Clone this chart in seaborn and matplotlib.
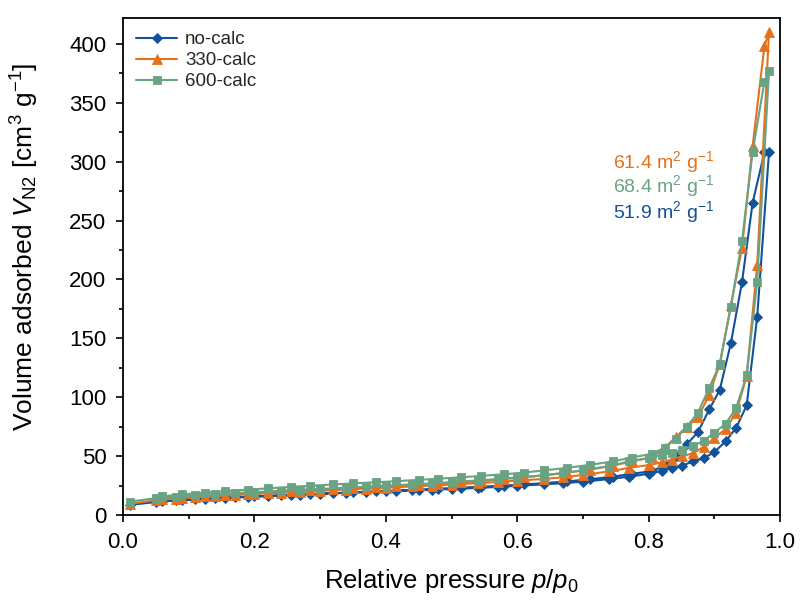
import matplotlib
matplotlib.use("Agg")
import matplotlib.pyplot as plt
import seaborn as sns
import pandas as pd
from matplotlib.ticker import MultipleLocator

# ---- data ----
samples = ["no-calc", "330-calc", "600-calc"]
ads_p = [0.01, 0.05, 0.08, 0.11, 0.14, 0.17, 0.20, 0.24, 0.27, 0.30, 0.34, 0.37,
         0.40, 0.44, 0.47, 0.50, 0.54, 0.57, 0.60, 0.64, 0.67, 0.70, 0.74, 0.77,
         0.80, 0.82, 0.835, 0.85, 0.868, 0.884, 0.90, 0.917, 0.933, 0.949, 0.965, 0.983]
des_p = [0.976, 0.958, 0.942, 0.925, 0.908, 0.892, 0.875, 0.858, 0.841, 0.824,
         0.805, 0.775, 0.745, 0.71, 0.675, 0.64, 0.61, 0.58, 0.545, 0.515, 0.48,
         0.45, 0.415, 0.385, 0.35, 0.32, 0.285, 0.255, 0.22, 0.19, 0.155, 0.125,
         0.09, 0.06]

nocalc_ads = [8.5, 11, 12.3, 13.3, 14.2, 15, 15.8, 16.6, 17.3, 18, 18.8, 19.4,
              20, 20.8, 21.4, 22, 23, 23.8, 24.8, 26, 27, 28.3, 30.5, 32.5,
              35, 37.3, 39.8, 41.8, 45.5, 48.3, 53.5, 62.5, 74, 93, 168, 308]
nocalc_des = [308, 265, 198, 146, 106, 89.6, 70.5, 60, 49.7, 41.8, 37.3, 35,
              32.5, 30.3, 28.5, 27, 25.9, 25, 24, 23.2, 22.3, 21.5, 20.7, 20,
              19.2, 18.5, 17.6, 16.9, 16, 15.3, 14.4, 13.6, 12.6, 11.5]

c330_ads = [9.5, 12.5, 13.9, 15.1, 16.1, 17, 17.9, 19, 19.8, 20.6, 21.6, 22.4,
            23.2, 24.2, 25, 25.8, 27, 28, 29.2, 30.6, 32, 34, 37, 40,
            42.4, 44.6, 47, 49.7, 52.6, 58, 65.4, 73, 86.7, 118, 212, 410]
c330_des = [398, 313, 227, 178, 128, 102, 83, 75, 66, 57, 49, 45.5,
            42, 38.5, 36, 33.8, 32, 30.5, 29, 27.8, 26.6, 25.6, 24.5, 23.6,
            22.6, 21.8, 20.8, 20, 18.9, 18, 16.9, 15.9, 14.6, 13.2]

c600_ads = [11.4, 14.2, 15.5, 16.6, 17.6, 18.5, 19.4, 20.5, 21.3, 22.1, 23.1, 24,
            24.9, 26, 26.9, 27.9, 29.3, 30.5, 31.8, 33.5, 35.5, 38, 41.5, 45.5,
            48.4, 51, 52.6, 55.4, 58.8, 63, 70, 77.4, 91, 118.5, 198, 377]
c600_des = [368, 308, 233, 177, 128, 108, 87, 75, 64.5, 57, 52, 48.8,
            45.5, 42.5, 40, 37.8, 36, 34.6, 33.2, 32, 30.8, 29.8, 28.7, 27.8,
            26.8, 25.9, 24.8, 23.9, 22.6, 21.5, 20.2, 19, 17.5, 15.8]

bet_labels = ["51.9 m$^2$ g$^{-1}$", "61.4 m$^2$ g$^{-1}$", "68.4 m$^2$ g$^{-1}$"]

# ---- style ----
colors = ["#11529a", "#e6711c", "#6aa383"]
markers = ["D", "^", "s"]
msizes = [5, 6.5, 5.5]

sns.set_theme(style="ticks")
plt.rcParams["font.family"] = ["Liberation Sans", "DejaVu Sans"]
plt.rcParams["mathtext.fontset"] = "custom"
plt.rcParams["mathtext.rm"] = "Liberation Sans"
plt.rcParams["mathtext.it"] = "Liberation Sans:italic"

fig = plt.figure(figsize=(8.01, 6.03), dpi=100)
ax = fig.add_axes([0.1536, 0.146, 0.8204, 0.824])

series = [(nocalc_ads, nocalc_des), (c330_ads, c330_des), (c600_ads, c600_des)]
for i, (name, (a, d)) in enumerate(zip(samples, series)):
    df = pd.DataFrame({"p": ads_p + des_p, "V": a + d})
    sns.lineplot(data=df, x="p", y="V", sort=False, estimator=None, ax=ax,
                 color=colors[i], marker=markers[i], markersize=msizes[i],
                 markeredgewidth=0.6, markeredgecolor=colors[i],
                 linewidth=1.5, label=name)

ax.set_xlim(0, 1.0)
ax.set_ylim(0, 422)
ax.xaxis.set_major_locator(MultipleLocator(0.2))
ax.xaxis.set_minor_locator(MultipleLocator(0.1))
ax.yaxis.set_major_locator(MultipleLocator(50))
ax.yaxis.set_minor_locator(MultipleLocator(25))
ax.tick_params(which="both", direction="out", top=False, right=False,
               color="black", width=1.2)
ax.tick_params(which="major", length=5, pad=7, labelsize=16, labelcolor="black")
ax.tick_params(which="minor", length=3)
ax.set_xticks([0, 0.2, 0.4, 0.6, 0.8, 1.0])
ax.set_xticklabels(["0.0", "0.2", "0.4", "0.6", "0.8", "1.0"])
for s in ax.spines.values():
    s.set_color("black")
    s.set_linewidth(1.3)
    s.set_visible(True)

ax.set_xlabel("Relative pressure $p$/$p_0$", fontsize=18.5, color="black", labelpad=10)
ax.set_ylabel("Volume adsorbed $V_{\\mathrm{N2}}$ [cm$^3$ g$^{-1}$]", fontsize=19,
              color="black")
ax.yaxis.set_label_coords(-0.125, 0.54)

leg = ax.legend(loc="upper left", frameon=False, fontsize=13.5, handlelength=2.2,
                borderaxespad=0.4, labelspacing=0.2, handletextpad=0.4,
                borderpad=0.3)

# BET annotations: orange, green, blue from top
ann_order = [1, 2, 0]
ann_y = [300, 279, 257.5]
for yy, idx in zip(ann_y, ann_order):
    ax.text(0.746, yy, bet_labels[idx], color=colors[idx], fontsize=14,
            ha="left", va="center")

fig.savefig("out.png", dpi=100)
